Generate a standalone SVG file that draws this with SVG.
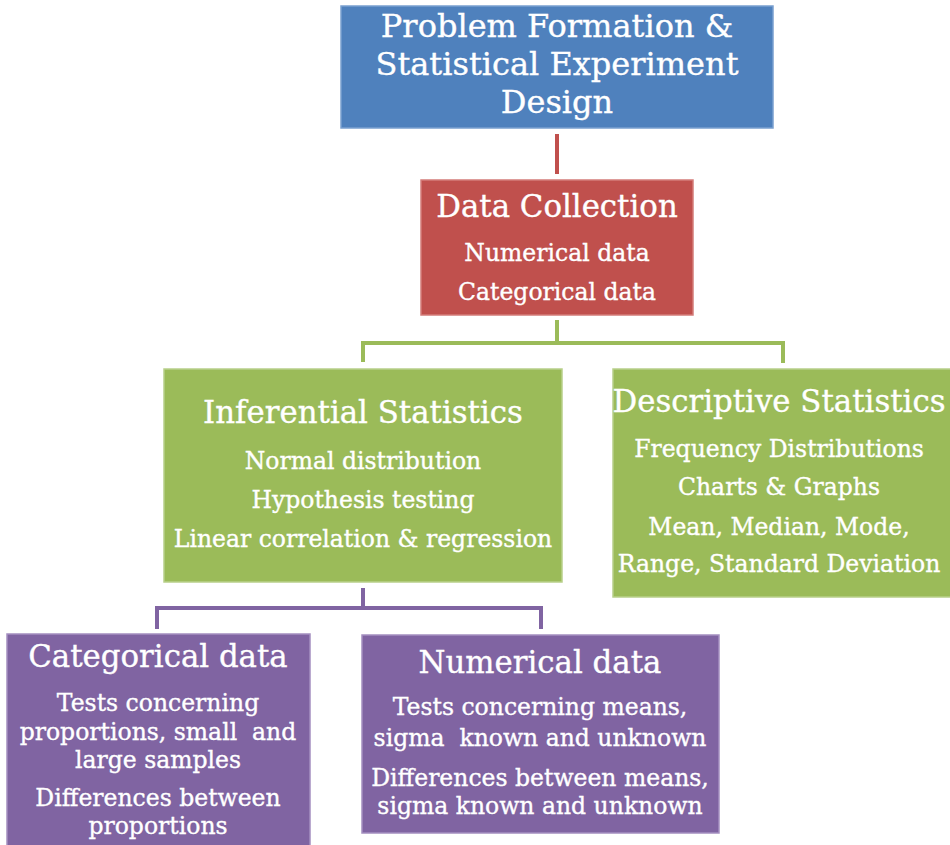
<svg xmlns="http://www.w3.org/2000/svg" width="950" height="845" viewBox="0 0 950 845">
<style>
  text { font-family: "DejaVu Serif", "Liberation Serif", serif; fill: #ffffff; stroke: #ffffff; stroke-width: 0.35; text-anchor: middle; }
  .h1 { font-size: 32px; }
  .h2 { font-size: 30.8px; }
  .s { font-size: 23.5px; }
  .blue { fill: #4f81bd; stroke: #7aa0d0; stroke-width: 1.5; }
  .red { fill: #c0504d; stroke: #d47c79; stroke-width: 1.5; }
  .green { fill: #9bbb59; stroke: #b8d08a; stroke-width: 1.5; }
  .purple { fill: #8064a2; stroke: #a48fc0; stroke-width: 1.5; }
  .c { fill: none; stroke-width: 4; }
</style>
<rect width="950" height="845" fill="#ffffff"/>
<g id="connectors">
  <path class="c" stroke="#c0504d" d="M557 134 V174"/>
  <path class="c" stroke="#9bbb59" d="M557 320 V343 M363 362 V343 H783 V363"/>
  <path class="c" stroke="#8064a2" d="M363 588 V608 M157 629 V608 H541 V629"/>
</g>
<g id="problem">
  <rect class="blue" x="341" y="6" width="432" height="122"/>
  <text class="h1" x="557" y="37">Problem Formation &amp;</text>
  <text class="h1" x="557" y="75">Statistical Experiment</text>
  <text class="h1" x="557" y="113">Design</text>
</g>
<g id="collection">
  <rect class="red" x="421" y="180" width="272" height="135"/>
  <text class="h2" x="557" y="217">Data Collection</text>
  <text class="s" x="557" y="261">Numerical data</text>
  <text class="s" x="557" y="300">Categorical data</text>
</g>
<g id="inferential">
  <rect class="green" x="164" y="369" width="398" height="213"/>
  <text class="h2" x="363" y="423">Inferential Statistics</text>
  <text class="s" x="363" y="469">Normal distribution</text>
  <text class="s" x="363" y="508">Hypothesis testing</text>
  <text class="s" x="363" y="547">Linear correlation &amp; regression</text>
</g>
<g id="descriptive">
  <rect class="green" x="613" y="369" width="345" height="228"/>
  <text class="h2" x="779" y="412">Descriptive Statistics</text>
  <text class="s" x="779" y="457">Frequency Distributions</text>
  <text class="s" x="779" y="495">Charts &amp; Graphs</text>
  <text class="s" x="779" y="535">Mean, Median, Mode,</text>
  <text class="s" x="779" y="572">Range, Standard Deviation</text>
</g>
<g id="categorical">
  <rect class="purple" x="7" y="634" width="303" height="220"/>
  <text class="h2" x="158" y="667">Categorical data</text>
  <text class="s" x="158" y="711">Tests concerning</text>
  <text class="s" x="158" y="740" xml:space="preserve">proportions, small  and</text>
  <text class="s" x="158" y="768">large samples</text>
  <text class="s" x="158" y="806">Differences between</text>
  <text class="s" x="158" y="834">proportions</text>
</g>
<g id="numerical">
  <rect class="purple" x="362" y="635" width="357" height="198"/>
  <text class="h2" x="540" y="673">Numerical data</text>
  <text class="s" x="540" y="715">Tests concerning means,</text>
  <text class="s" x="540" y="746" xml:space="preserve">sigma  known and unknown</text>
  <text class="s" x="540" y="786">Differences between means,</text>
  <text class="s" x="540" y="814">sigma known and unknown</text>
</g>
</svg>
